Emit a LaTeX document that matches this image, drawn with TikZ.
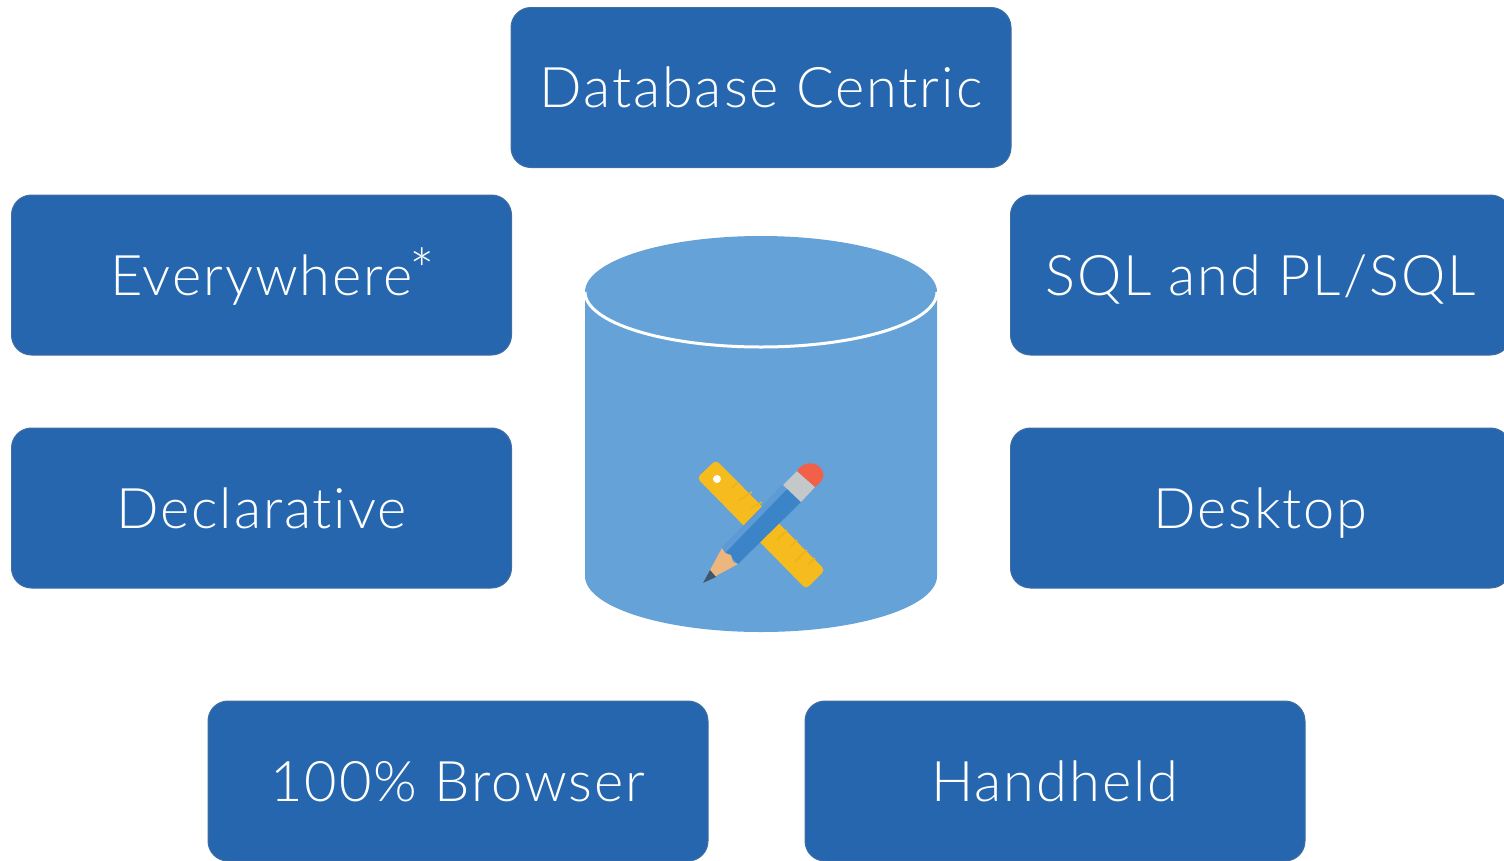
\documentclass[tikz,border=0pt]{standalone}
\usepackage{fontspec}
\setmainfont[LetterSpace=3.4,Ligatures=NoCommon]{Lato Light}
\definecolor{boxblue}{HTML}{2566AF}
\definecolor{drumblue}{HTML}{65A2D8}
\definecolor{rulery}{HTML}{F6BC1E}
\definecolor{tickdark}{HTML}{EDB21C}
\definecolor{penblue}{HTML}{3B84C7}
\definecolor{penlight}{HTML}{5C9BD6}
\definecolor{pengrey}{HTML}{C4C8C8}
\definecolor{penred}{HTML}{F2604A}
\definecolor{penwood}{HTML}{EDB67F}
\definecolor{penlead}{HTML}{3F5670}
\begin{document}
\begin{tikzpicture}
        [
            x = 1pt, y = -1pt,
            topic/.style = {draw = boxblue!70!gray, line width = 1pt, fill = boxblue, text = white, rounded corners = 20pt,
                minimum width = 500pt, minimum height = 160pt, text height = 40pt, text depth = 0pt,
                font = \fontsize{56}{60}\selectfont},
            drum/.style = {fill = drumblue}
        ]

        \useasboundingbox (0,0) rectangle (1504,860);
        \clip (0,0) rectangle (1504,860);

        \node [topic] (database) at (761,87.5) {Database Centric};
        \node [topic] (everywhere) at (261.5,275) {Everywhere\rlap{\kern-3pt\raisebox{3pt}{\fontsize{60}{60}\selectfont *}}};
        \node [topic] (sql) at (1260.5,275) {SQL and PL/SQL};
        \node [topic] (declarative) at (261.5,508) {Declarative};
        \node [topic] (desktop) at (1260.5,508) {Desktop};
        \node [topic] (browser) at (458,781) {100\% Browser};
        \node [topic] (handheld) at (1055,781) {Handheld};

        % drum
        \fill [drum] (585,292) -- (585,576) arc [start angle = 180, end angle = 360, x radius = 176pt, y radius = 56pt]
            -- (937,292) arc [start angle = 0, end angle = 180, x radius = 176pt, y radius = 56pt] -- cycle;
        \draw [white, line width = 3pt] (585,292) arc [start angle = 180, end angle = 360, x radius = 176pt, y radius = 55pt];

        % ruler
        \fill [rulery, rounded corners = 4pt] (697,478) -- (716,460) -- (825,570) -- (806,589) -- cycle;
        \fill [white] (717,479) circle [radius = 4pt];
        \foreach \ax/\ay/\bx/\by in {738/482/732/488, 752/492/738/501, 762/502/751/508, 787/530/777/540, 797/540/790/547, 807/550/795/562, 815/558/808/565}
            \draw [tickdark, line width = 1.5pt] (\ax,\ay) -- (\bx,\by);

        % pencil
        \fill [penblue] (722,548) -- (783,485) -- (801,502) -- (738,564) -- cycle;
        \fill [penlight] (722,548) -- (783,485) -- (787,489) -- (726,552) -- cycle;
        \fill [pengrey] (783,485) -- (797,471) -- (815,487) -- (801,502) -- cycle;
        \fill [penred] (797,471) .. controls (803,461) and (818,460) .. (823,472)
            .. controls (825,477) and (821,483) .. (815,487) -- cycle;
        \fill [penwood] (722,548) -- (703,583) -- (738,564) -- (733,562) -- (731,555) -- (725,553) -- cycle;
        \fill [penlead] (703,583) -- (710,570) -- (716,577) -- cycle;
\end{tikzpicture}
\end{document}
